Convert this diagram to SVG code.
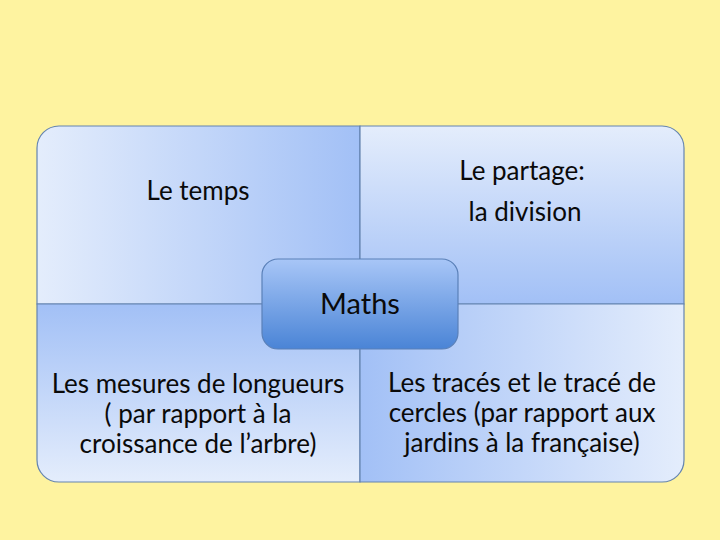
<svg xmlns="http://www.w3.org/2000/svg" width="720" height="540" viewBox="0 0 720 540">
<defs>
<linearGradient id="gH" x1="0" y1="0" x2="1" y2="0"><stop offset="0" stop-color="#E4EDFC"/><stop offset="1" stop-color="#A2C0F6"/></linearGradient>
<linearGradient id="gHr" x1="0" y1="0" x2="1" y2="0"><stop offset="0" stop-color="#A2C0F6"/><stop offset="1" stop-color="#E4EDFC"/></linearGradient>
<linearGradient id="gV" x1="0" y1="0" x2="0" y2="1"><stop offset="0" stop-color="#E4EDFC"/><stop offset="1" stop-color="#A2C0F6"/></linearGradient>
<linearGradient id="gVr" x1="0" y1="0" x2="0" y2="1"><stop offset="0" stop-color="#A2C0F6"/><stop offset="1" stop-color="#E4EDFC"/></linearGradient>
<linearGradient id="gC" x1="0" y1="0" x2="0" y2="1"><stop offset="0" stop-color="#A8C6F7"/><stop offset="1" stop-color="#4A84D6"/></linearGradient>
</defs>
<style>
.q{stroke:#6484B0;stroke-width:1.2}
.t{font-family:Lato,"Liberation Sans",sans-serif;font-size:26px;fill:#0A0A0A;text-anchor:middle}
.m{font-size:29px}
</style>
<rect width="720" height="540" fill="#FEF3A0"/>
<g id="temps">
<path class="q" fill="url(#gH)" d="M37,304 V148 A22,22 0 0 1 59,126 H360 V304 Z"/>
<text class="t" x="198" y="200">Le temps</text>
</g>
<g id="partage">
<path class="q" fill="url(#gV)" d="M360,126 H662 A22,22 0 0 1 684,148 V304 H360 Z"/>
<text class="t" x="522" y="180">Le partage:</text>
<text class="t" x="525" y="221">la division</text>
</g>
<g id="mesures">
<path class="q" fill="url(#gVr)" d="M37,304 H360 V482 H59 A22,22 0 0 1 37,460 Z"/>
<text class="t" x="198" y="393">Les mesures de longueurs</text>
<text class="t" x="198" y="423">( par rapport à la</text>
<text class="t" x="198" y="453">croissance de l’arbre)</text>
</g>
<g id="traces">
<path class="q" fill="url(#gHr)" d="M360,304 H684 V460 A22,22 0 0 1 662,482 H360 Z"/>
<text class="t" x="522" y="392">Les tracés et le tracé de</text>
<text class="t" x="522" y="422">cercles (par rapport aux</text>
<text class="t" x="522" y="452">jardins à la française)</text>
</g>
<g id="maths">
<rect x="262" y="259" width="196" height="90" rx="16" fill="url(#gC)" stroke="#5A80B8" stroke-width="1.2"/>
<text class="t m" x="360" y="314">Maths</text>
</g>
<g id="connectors"/>
</svg>
